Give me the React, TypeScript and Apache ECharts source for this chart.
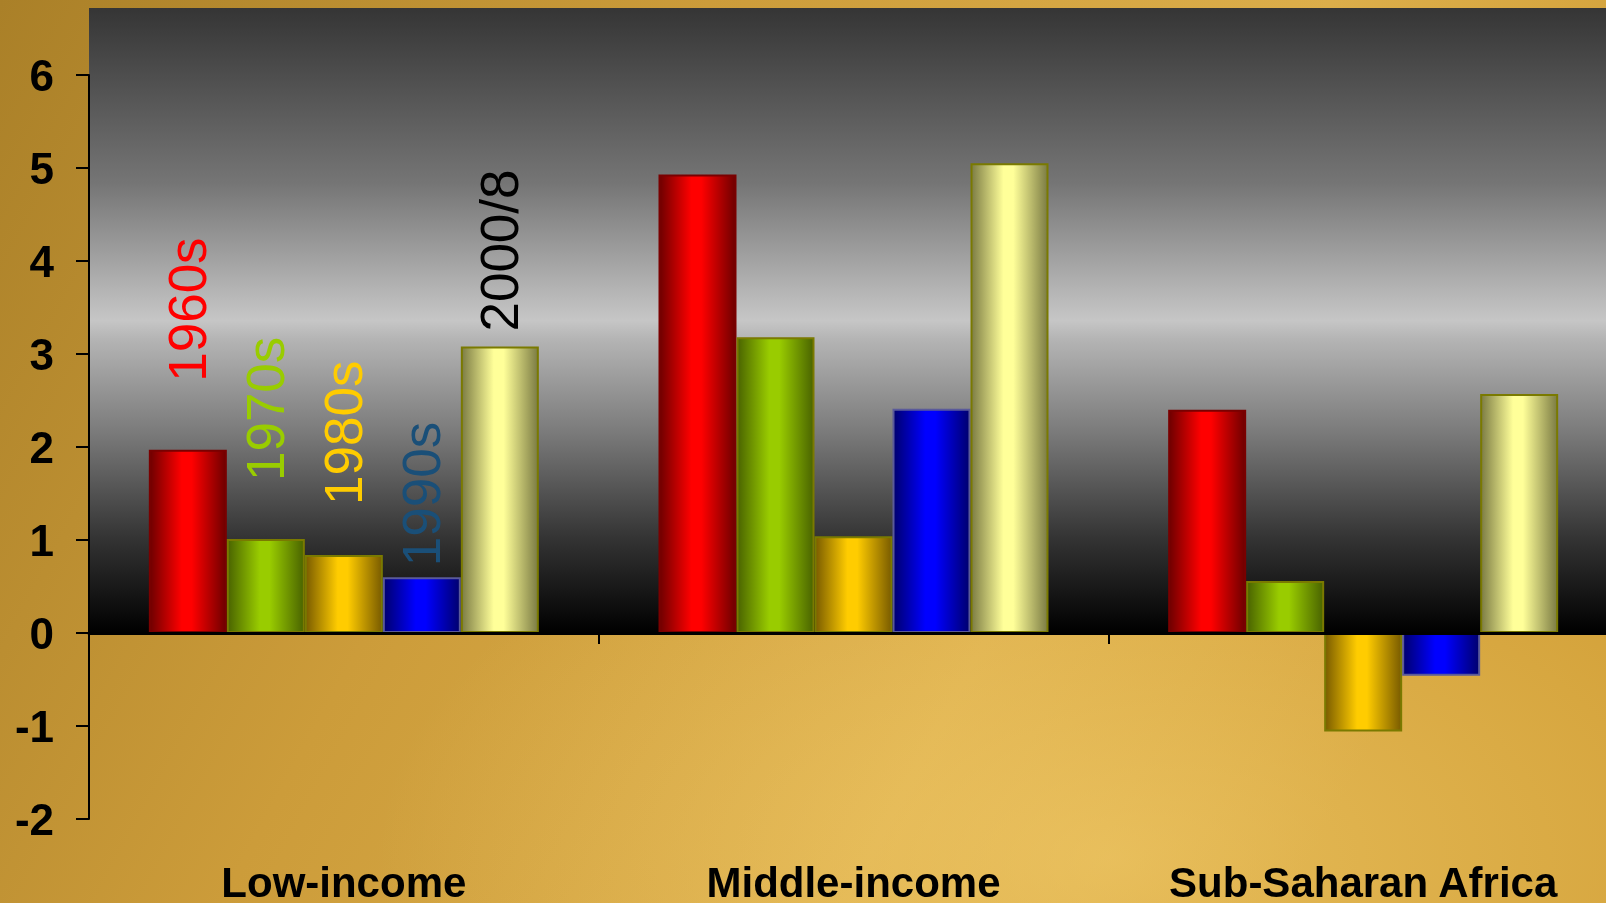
import React, { useEffect, useRef } from "react";
import * as echarts from "echarts";

const categories = ["Low-income", "Middle-income", "Sub-Saharan Africa"];
const seriesNames = ["1960s", "1970s", "1980s", "1990s", "2000/8"];
const v1960s = [1.97, 4.93, 2.4];
const v1970s = [1.01, 3.18, 0.56];
const v1980s = [0.84, 1.04, -1.06];
const v1990s = [0.6, 2.41, -0.46];
const v2000s = [3.08, 5.05, 2.57];
const seriesValues = [v1960s, v1970s, v1980s, v1990s, v2000s];
const yMin = -2;
const yMax = 6;
const yInterval = 1;

const W = 1606;
const H = 903;
const CW = 1630;
const FONT = "'Liberation Sans', Arial, sans-serif";

const barStyles = [
  { dark: "#6e0000", bright: "#ff0000", border: "#7a0000", label: "#ff0000", gap: 68 },
  { dark: "#4a6400", bright: "#99cc00", border: "#7a7a00", label: "#99cc00", gap: 58 },
  { dark: "#7a5c00", bright: "#ffcc00", border: "#7a7a00", label: "#ffcc00", gap: 50 },
  { dark: "#00006e", bright: "#0000ff", border: "#5a5a9a", label: "#1a4f78", gap: 11 },
  { dark: "#7c7c44", bright: "#ffff99", border: "#7a7a00", label: "#000000", gap: 15 },
];

function hGrad(dark: string, bright: string) {
  return {
    type: "linear",
    x: 0,
    y: 0,
    x2: 1,
    y2: 0,
    colorStops: [
      { offset: 0, color: dark },
      { offset: 0.42, color: bright },
      { offset: 0.55, color: bright },
      { offset: 1, color: dark },
    ],
  };
}

export default function App() {
  const ref = useRef<HTMLDivElement>(null);
  useEffect(() => {
    if (!ref.current) return;
    const chart = echarts.init(ref.current, null, { renderer: "svg" });
    const gridLeft = 89;
    const series = seriesNames.map((name, si) => {
      const st = barStyles[si];
      return {
        name,
        type: "bar",
        xAxisIndex: 0,
        yAxisIndex: 0,
        barWidth: 78,
        barGap: "0%",
        z: 2,
        itemStyle: {
          color: hGrad(st.dark, st.bright),
          borderColor: st.border,
          borderWidth: 2,
        },
        data: seriesValues[si].map((v, i) =>
          i === 0
            ? {
                value: v,
                label: {
                  show: true,
                  formatter: name,
                  position: "top",
                  distance: st.gap,
                  rotate: 90,
                  align: "left",
                  verticalAlign: "middle",
                  color: st.label,
                  fontSize: 53,
                  fontFamily: FONT,
                },
              }
            : v
        ),
      };
    });
    const option: any = {
      animation: false,
      grid: { left: gridLeft, top: 75, width: 1529, height: 747, containLabel: false },
      xAxis: [
        {
          type: "category",
          data: categories,
          z: 10,
          axisLine: { show: true, onZero: true, lineStyle: { color: "#000", width: 3 } },
          axisTick: { show: true, length: 11, inside: false, lineStyle: { color: "#000", width: 2 } },
          axisLabel: { show: false },
          splitLine: { show: false },
        },
        {
          type: "category",
          data: categories,
          position: "bottom",
          z: 10,
          axisLine: { show: false, onZero: false },
          axisTick: { show: false },
          axisLabel: {
            show: true,
            interval: 0,
            hideOverlap: false,
            margin: 42,
            fontSize: 42,
            fontWeight: "bold",
            color: "#000",
            fontFamily: FONT,
          },
          splitLine: { show: false },
        },
      ],
      yAxis: {
        type: "value",
        min: yMin,
        max: yMax,
        interval: yInterval,
        z: 10,
        axisLine: { show: true, lineStyle: { color: "#000", width: 2 } },
        axisTick: { show: true, length: 13, inside: false, lineStyle: { color: "#000", width: 2 } },
        axisLabel: {
          margin: 35,
          fontSize: 44,
          fontWeight: "bold",
          color: "#000",
          fontFamily: FONT,
        },
        splitLine: { show: false },
      },
      series,
    };
    chart.setOption(option);
    const zeroY = chart.convertToPixel({ yAxisIndex: 0 }, 0) as number;
    chart.setOption({
      graphic: [
        {
          type: "rect",
          z: 0,
          silent: true,
          shape: { x: 0, y: 0, width: CW, height: H },
          style: {
            fill: {
              type: "linear",
              x: 0,
              y: 0,
              x2: 1,
              y2: 0.3,
              colorStops: [
                { offset: 0, color: "#aa8028" },
                { offset: 0.4, color: "#cc9c3a" },
                { offset: 0.75, color: "#dcae4a" },
                { offset: 1, color: "#d2a038" },
              ],
            },
          },
        },
        {
          type: "rect",
          z: 0,
          silent: true,
          shape: { x: 0, y: 0, width: CW, height: H },
          style: {
            fill: {
              type: "radial",
              x: 0.68,
              y: 0.95,
              r: 0.45,
              colorStops: [
                { offset: 0, color: "rgba(250,215,120,0.5)" },
                { offset: 1, color: "rgba(250,215,120,0)" },
              ],
            },
          },
        },
        {
          type: "rect",
          z: 0,
          silent: true,
          shape: { x: gridLeft, y: 8, width: CW - gridLeft, height: zeroY - 8 },
          style: {
            fill: {
              type: "linear",
              x: 0,
              y: 0,
              x2: 0,
              y2: 1,
              colorStops: [
                { offset: 0, color: "#353535" },
                { offset: 0.28, color: "#757575" },
                { offset: 0.5, color: "#c6c6c6" },
                { offset: 0.53, color: "#b4b4b4" },
                { offset: 0.68, color: "#7a7a7a" },
                { offset: 0.85, color: "#333333" },
                { offset: 1, color: "#000000" },
              ],
            },
          },
        },
      ],
    });
    return () => chart.dispose();
  }, []);
  return (
    <div
      style={{
        position: "fixed",
        left: 0,
        top: 0,
        width: W,
        height: H,
        overflow: "hidden",
      }}
    >
      <div ref={ref} style={{ width: CW, height: H }} />
    </div>
  );
}
